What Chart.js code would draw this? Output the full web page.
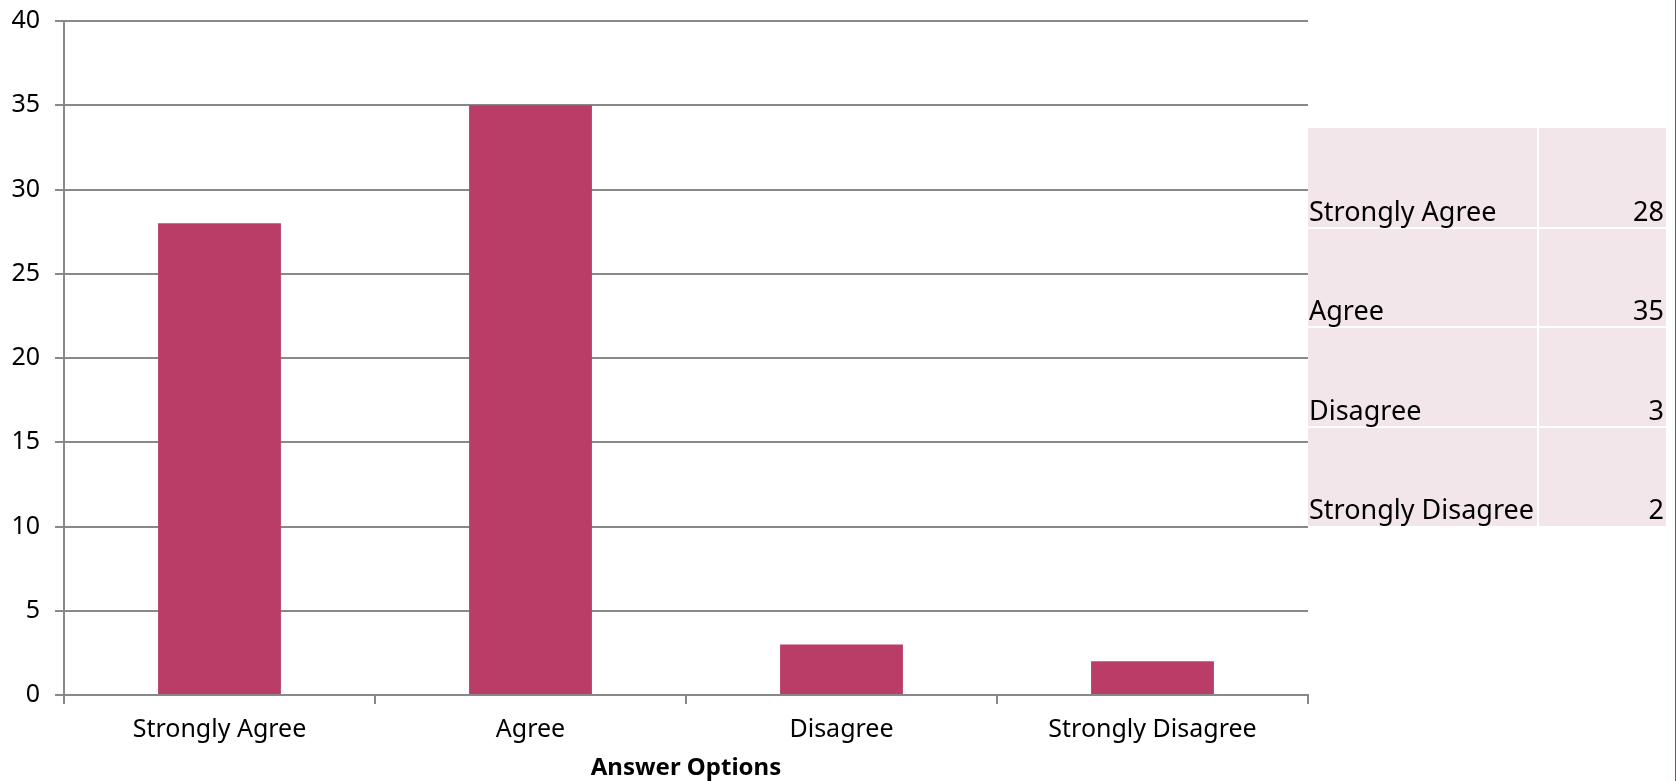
<!DOCTYPE html>
<html>
<head>
<meta charset="utf-8">
<title>Answer Options</title>
<script src="https://cdn.jsdelivr.net/npm/chart.js@4/dist/chart.umd.min.js"></script>
<style>
  html, body { margin: 0; padding: 0; background: #ffffff; }
  #wrap { position: relative; width: 1676px; height: 781px; }
  canvas { display: block; }
</style>
</head>
<body>
<div id="wrap"><canvas id="chart" width="1676" height="781"></canvas></div>
<script>
// Survey responses per answer option
const categories = ['Strongly Agree', 'Agree', 'Disagree', 'Strongly Disagree'];
const responses = [28, 35, 3, 2];
const yTicks = [0, 5, 10, 15, 20, 25, 30, 35, 40];
const axisTitle = 'Answer Options';

const FONT = "'Noto Sans', 'DejaVu Sans', sans-serif";
const GRID = '#888888';
const BAR = '#ba3d68';

// Data table drawn beside the plot area, one row per category
const dataTable = {
  id: 'dataTable',
  afterDraw(chart) {
    const ctx = chart.ctx;
    const left = 1308, right = 1666, mid = 1538;
    const top = 128, bottom = 526;
    const rowH = (bottom - top) / categories.length;
    ctx.save();
    ctx.fillStyle = '#f2e6eb';
    ctx.fillRect(left, top, right - left, bottom - top);
    ctx.fillStyle = '#ffffff';
    ctx.fillRect(mid - 1, top, 2, bottom - top);
    for (let i = 1; i < categories.length; i++) {
      ctx.fillRect(left, Math.round(top + i * rowH) - 1, right - left, 2);
    }
    ctx.fillStyle = '#000000';
    ctx.font = '27px ' + FONT;
    ctx.textBaseline = 'alphabetic';
    categories.forEach((name, i) => {
      const base = top + (i + 1) * rowH - 7;
      ctx.textAlign = 'left';
      ctx.fillText(name, left + 1, base);
      ctx.textAlign = 'right';
      ctx.fillText(String(responses[i]), right - 2, base);
    });
    // frame edge on the right
    ctx.fillStyle = '#8e3f7b';
    ctx.fillRect(chart.width - 1, 0, 1, chart.height);
    ctx.restore();
  }
};

new Chart(document.getElementById('chart'), {
  type: 'bar',
  data: {
    labels: categories,
    datasets: [{
      data: responses,
      backgroundColor: BAR,
      borderWidth: 0,
      categoryPercentage: 1,
      barPercentage: 0.395
    }]
  },
  options: {
    responsive: false,
    animation: false,
    events: [],
    layout: { padding: { left: 0, top: 21, right: 368, bottom: 0 } },
    plugins: {
      legend: { display: false },
      tooltip: { enabled: false }
    },
    scales: {
      x: {
        grid: {
          display: true,
          drawOnChartArea: false,
          drawTicks: true,
          tickLength: 9,
          color: GRID,
          lineWidth: 2,
          offset: true
        },
        border: { display: true, color: GRID, width: 2 },
        ticks: {
          color: '#000000',
          font: { family: FONT, size: 25 },
          padding: 11,
          maxRotation: 0
        },
        title: {
          display: true,
          text: axisTitle,
          color: '#000000',
          font: { family: FONT, size: 24, weight: 'bold' },
          padding: { top: 0, bottom: -2 }
        },
        afterFit(scale) {
          scale.height = 86;
          scale.paddingLeft = 0;
          scale.paddingRight = 0;
        }
      },
      y: {
        min: 0,
        max: 40,
        afterBuildTicks(scale) { scale.ticks = yTicks.map(v => ({ value: v })); },
        grid: {
          color: GRID,
          lineWidth: 2,
          drawTicks: true,
          tickLength: 9
        },
        border: { display: true, color: GRID, width: 2 },
        ticks: {
          color: '#000000',
          font: { family: FONT, size: 25 },
          padding: 15
        },
        afterFit(scale) {
          scale.width = 64;
          scale.paddingTop = 0;
          scale.paddingBottom = 0;
        }
      }
    }
  },
  plugins: [dataTable]
});
</script>
</body>
</html>
